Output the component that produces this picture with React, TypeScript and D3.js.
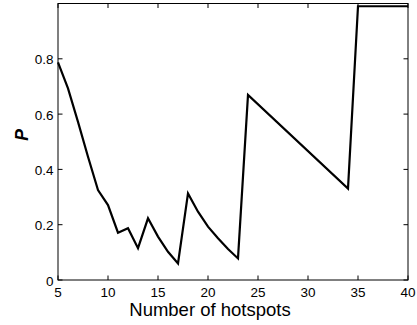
import React from "react";
import * as d3 from "d3";

const hotspots = [5, 6, 7, 8, 9, 10, 11, 12, 13, 14, 15, 16, 17, 18, 19, 20, 21, 22, 23, 24, 34, 35, 36, 37, 38, 39, 40];
const pValues = [0.787, 0.693, 0.572, 0.446, 0.325, 0.271, 0.171, 0.187, 0.115, 0.223, 0.157, 0.102, 0.06, 0.313, 0.247, 0.193, 0.151, 0.112, 0.078, 0.669, 0.331, 0.99, 0.99, 0.99, 0.99, 0.99, 0.99];
const xTicks = [5, 10, 15, 20, 25, 30, 35, 40];
const yTicks = [0, 0.2, 0.4, 0.6, 0.8];

const W = 417, H = 325;
const left = 58, right = 408, top = 3.5, bottom = 280;

export default function App() {
  const x = d3.scaleLinear().domain([5, 40]).range([left, right]);
  const y = d3.scaleLinear().domain([0, 1]).range([bottom, top]);
  const data = hotspots.map((h, i) => [h, pValues[i]] as [number, number]);
  const line = d3.line<[number, number]>().x(d => x(d[0])).y(d => y(d[1]));
  const font = "'Liberation Sans', Arial, Helvetica, sans-serif";
  const tl = 4.5;
  return (
    <svg width={W} height={H} style={{ position: "absolute", left: 0, top: 0, background: "#fff" }}>
      <rect x={0} y={0} width={W} height={H} fill="#fff" />
      <path d={line(data) || ""} fill="none" stroke="#000" strokeWidth={2.2} strokeLinejoin="miter" />
      <rect x={left} y={top} width={right - left} height={bottom - top} fill="none" stroke="#000" strokeWidth={1} />
      {xTicks.map(t => (
        <g key={"x" + t}>
          <line x1={x(t)} x2={x(t)} y1={bottom} y2={bottom - tl} stroke="#000" />
          <line x1={x(t)} x2={x(t)} y1={top} y2={top + tl} stroke="#000" />
          <text x={x(t)} y={296.5} textAnchor="middle" fontFamily={font} fontSize={13.5} fill="#000">{t}</text>
        </g>
      ))}
      {yTicks.map(t => (
        <g key={"y" + t}>
          <line x1={left} x2={left + tl} y1={y(t)} y2={y(t)} stroke="#000" />
          <line x1={right} x2={right - tl} y1={y(t)} y2={y(t)} stroke="#000" />
          <text x={53.5} y={y(t) + 5.5} textAnchor="end" fontFamily={font} fontSize={13.5} fill="#000">{t === 0 ? "0" : t.toFixed(1)}</text>
        </g>
      ))}
      <text x={210} y={316} textAnchor="middle" fontFamily={font} fontSize={18.5} fill="#000">Number of hotspots</text>
      <text transform="translate(28,135) rotate(-90)" textAnchor="middle" fontFamily={font} fontSize={17.5} fontWeight="bold" fontStyle="italic" fill="#000">P</text>
    </svg>
  );
}
